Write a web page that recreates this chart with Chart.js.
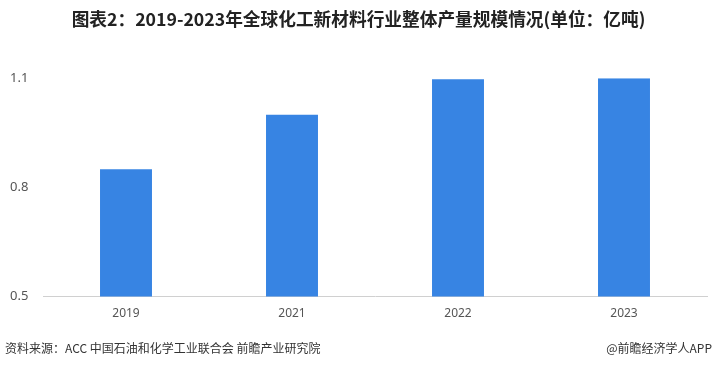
<!DOCTYPE html>
<html>
<head>
<meta charset="utf-8">
<script src="https://cdn.jsdelivr.net/npm/chart.js@4"></script>
<style>
  html, body { margin: 0; padding: 0; background: #fff; }
  #wrap { position: relative; width: 717px; height: 368px; }
  .foot { position: absolute; top: 339px; font-family: "Noto Sans CJK SC", sans-serif; font-size: 12px; color: #333; }
</style>
</head>
<body>
<div id="wrap">
  <canvas id="prodChart" width="717" height="368"></canvas>
  <div class="foot" style="left:5px;">资料来源：ACC 中国石油和化学工业联合会 前瞻产业研究院</div>
  <div class="foot" style="right:5px;">@前瞻经济学人APP</div>
</div>
<script>
// categories and values (亿吨)
const years = ['2019', '2021', '2022', '2023'];
const output = [0.85, 1.0, 1.097, 1.1];
const yTicks = [0.5, 0.8, 1.1];

const ctx = document.getElementById('prodChart');

new Chart(ctx, {
    type: 'bar',
    data: {
        labels: years,
        datasets: [{
            label: '产量',
            data: output,
            backgroundColor: '#3784e3',
            barPercentage: 0.313,
            categoryPercentage: 1
        }]
    },
    options: {
        responsive: false,
        animation: false,
        layout: { padding: { left: 10, right: 10, top: 0, bottom: 37 } },
        plugins: {
            legend: { display: false },
            tooltip: { enabled: false },
            title: {
                display: true,
                text: '图表2：2019-2023年全球化工新材料行业整体产量规模情况(单位：亿吨)',
                font: { family: '"Noto Sans CJK SC", sans-serif', size: 17.7, weight: 'bold' },
                color: '#222',
                padding: { top: 9, bottom: 48 }
            }
        },
        scales: {
            x: {
                grid: { display: false, drawTicks: false },
                border: { color: '#d0d0d0' },
                ticks: {
                    color: '#555',
                    padding: 10,
                    font: { family: '"Noto Sans", sans-serif', size: 12 }
                }
            },
            y: {
                min: 0.5,
                max: 1.1,
                afterBuildTicks: (axis) => {
                    axis.ticks = yTicks.map(v => ({ value: v }));
                },
                afterFit: (axis) => { axis.width = 33; },
                grid: { display: false, drawTicks: false },
                border: { display: false },
                ticks: {
                    color: '#555',
                    padding: 13,
                    crossAlign: 'far',
                    font: { family: '"Noto Sans", sans-serif', size: 13 },
                    callback: (v) => String(v)
                }
            }
        }
    }
});
</script>
</body>
</html>
